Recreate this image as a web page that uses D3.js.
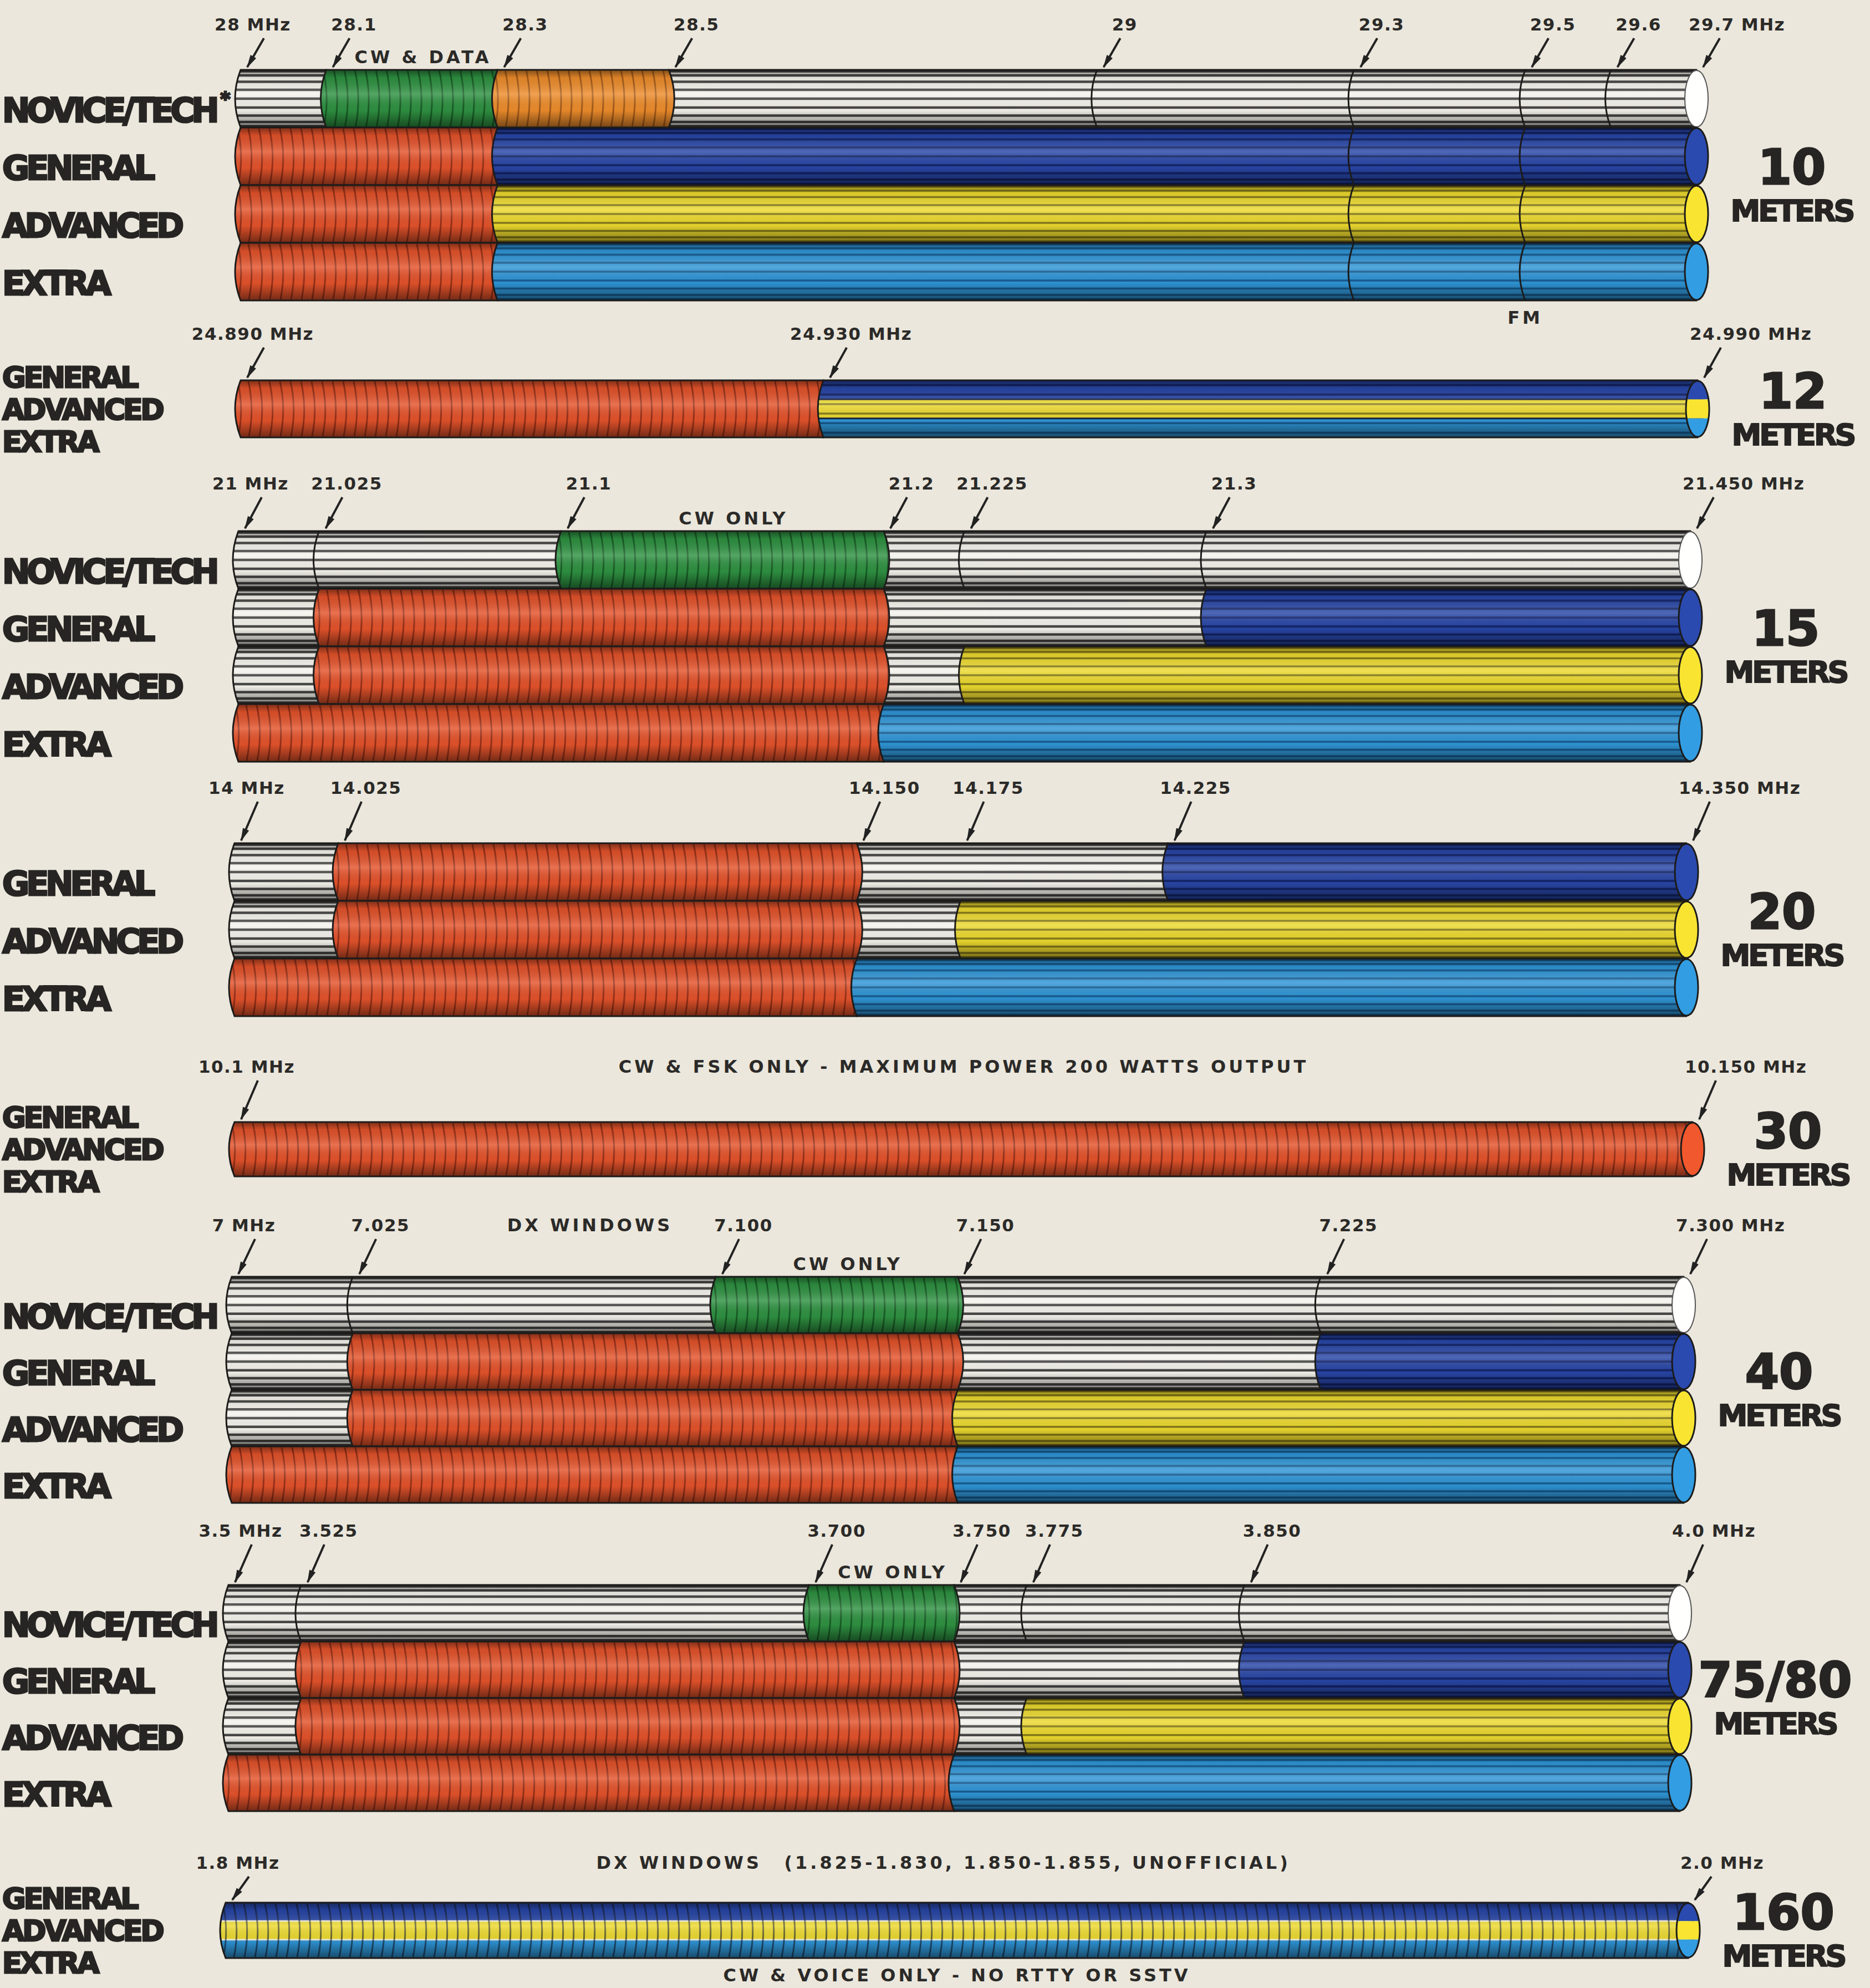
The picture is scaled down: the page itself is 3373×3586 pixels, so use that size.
<!DOCTYPE html>
<html>
<head>
<meta charset="utf-8">
<script src="https://cdn.jsdelivr.net/npm/d3@7"></script>
<style>
body{margin:0;background:#ebe7dc;}
svg{display:block;}
.freq{font-family:"DejaVu Sans",sans-serif;font-weight:bold;font-size:31px;letter-spacing:1.5px;fill:#2b2a28;}
.note{font-family:"DejaVu Sans",sans-serif;font-weight:bold;font-size:32px;letter-spacing:5px;fill:#2b2a28;}
.cls{font-family:"DejaVu Sans",sans-serif;font-weight:bold;font-size:60px;letter-spacing:-6px;fill:#262523;stroke:#262523;stroke-width:3;}
.cls.stack{font-size:52px;letter-spacing:-4px;}
.band{font-family:"DejaVu Sans",sans-serif;font-weight:bold;font-size:88px;fill:#262523;stroke:#262523;stroke-width:3;}
.meters{font-family:"DejaVu Sans",sans-serif;font-weight:bold;font-size:54px;letter-spacing:-4px;fill:#262523;stroke:#262523;stroke-width:2;}
</style>
</head>
<body>
<svg id="chart"></svg>
<script>
// band names (right hand side)
var bandNames = ["10","12","15","20","30","40","75/80","160"];
// band edges in MHz
var bandRanges = [[28,29.7],[24.89,24.99],[21,21.45],[14,14.35],[10.1,10.15],[7,7.3],[3.5,4.0],[1.8,2.0]];
// frequencies marked with an arrow
var bandMarkers = [
    [28,28.1,28.3,28.5,29,29.3,29.5,29.6,29.7],
    [24.89,24.93,24.99],
    [21,21.025,21.1,21.2,21.225,21.3,21.45],
    [14,14.025,14.15,14.175,14.225,14.35],
    [10.1,10.15],
    [7,7.025,7.1,7.15,7.225,7.3],
    [3.5,3.525,3.7,3.75,3.775,3.85,4.0],
    [1.8,2.0]
];
var markerLabels = [
    ["28 MHz","28.1","28.3","28.5","29","29.3","29.5","29.6","29.7 MHz"],
    ["24.890 MHz","24.930 MHz","24.990 MHz"],
    ["21 MHz","21.025","21.1","21.2","21.225","21.3","21.450 MHz"],
    ["14 MHz","14.025","14.150","14.175","14.225","14.350 MHz"],
    ["10.1 MHz","10.150 MHz"],
    ["7 MHz","7.025","7.100","7.150","7.225","7.300 MHz"],
    ["3.5 MHz","3.525","3.700","3.750","3.775","3.850","4.0 MHz"],
    ["1.8 MHz","2.0 MHz"]
];
// licence classes listed at the left
var rowLabels = [
    ["NOVICE/TECH*","GENERAL","ADVANCED","EXTRA"],
    ["GENERAL","ADVANCED","EXTRA"],
    ["NOVICE/TECH","GENERAL","ADVANCED","EXTRA"],
    ["GENERAL","ADVANCED","EXTRA"],
    ["GENERAL","ADVANCED","EXTRA"],
    ["NOVICE/TECH","GENERAL","ADVANCED","EXTRA"],
    ["NOVICE/TECH","GENERAL","ADVANCED","EXTRA"],
    ["GENERAL","ADVANCED","EXTRA"]
];
// segments of each cylinder: [from MHz, to MHz, privilege]
var bandSegments = [
    [
        [[28,28.1,"none"],[28.1,28.3,"ncw"],[28.3,28.5,"ndata"],[28.5,29.7,"none"]],
        [[28,28.3,"cw"],[28.3,29.7,"gen"]],
        [[28,28.3,"cw"],[28.3,29.7,"adv"]],
        [[28,28.3,"cw"],[28.3,29.7,"ext"]]
    ],
    [
        [[24.89,24.93,"cw"],[24.93,24.99,"gae"]]
    ],
    [
        [[21,21.1,"none"],[21.1,21.2,"ncw"],[21.2,21.45,"none"]],
        [[21,21.025,"none"],[21.025,21.2,"cw"],[21.2,21.3,"none"],[21.3,21.45,"gen"]],
        [[21,21.025,"none"],[21.025,21.2,"cw"],[21.2,21.225,"none"],[21.225,21.45,"adv"]],
        [[21,21.2,"cw"],[21.2,21.45,"ext"]]
    ],
    [
        [[14,14.025,"none"],[14.025,14.15,"cw"],[14.15,14.225,"none"],[14.225,14.35,"gen"]],
        [[14,14.025,"none"],[14.025,14.15,"cw"],[14.15,14.175,"none"],[14.175,14.35,"adv"]],
        [[14,14.15,"cw"],[14.15,14.35,"ext"]]
    ],
    [
        [[10.1,10.15,"cw"]]
    ],
    [
        [[7,7.1,"none"],[7.1,7.15,"ncw"],[7.15,7.3,"none"]],
        [[7,7.025,"none"],[7.025,7.15,"cw"],[7.15,7.225,"none"],[7.225,7.3,"gen"]],
        [[7,7.025,"none"],[7.025,7.15,"cw"],[7.15,7.3,"adv"]],
        [[7,7.15,"cw"],[7.15,7.3,"ext"]]
    ],
    [
        [[3.5,3.7,"none"],[3.7,3.75,"ncw"],[3.75,4.0,"none"]],
        [[3.5,3.525,"none"],[3.525,3.75,"cw"],[3.75,3.85,"none"],[3.85,4.0,"gen"]],
        [[3.5,3.525,"none"],[3.525,3.75,"cw"],[3.75,3.775,"none"],[3.775,4.0,"adv"]],
        [[3.5,3.75,"cw"],[3.75,4.0,"ext"]]
    ],
    [
        [[1.8,2.0,"gaecw"]]
    ]
];
// sub band borders drawn across rows: [MHz, first row, last row]
var bandDividers = [
    [[29,0,0],[29.3,0,3],[29.5,0,3],[29.6,0,0]],
    [],
    [[21.025,0,0],[21.225,0,0],[21.3,0,0]],
    [],
    [],
    [[7.025,0,0],[7.225,0,0]],
    [[3.525,0,0],[3.775,0,0],[3.85,0,0]],
    []
];
// notes: [MHz, text, where]
var bandNotes = [
    [[28.2,"CW & DATA","inline"],[29.5,"FM","below"]],
    [],
    [[21.15,"CW ONLY","inline"]],
    [],
    [[10.125,"CW & FSK ONLY - MAXIMUM POWER 200 WATTS OUTPUT","top"]],
    [[7.074,"DX WINDOWS","top"],[7.125,"CW ONLY","inline"]],
    [[3.725,"CW ONLY","inline"]],
    [[1.862,"DX WINDOWS","top"],[1.911,"(1.825-1.830, 1.850-1.855, UNOFFICIAL)","top"],[1.9,"CW & VOICE ONLY - NO RTTY OR SSTV","below"]]
];

//where each band sits on the page
var layout = [
    {x0:434,x1:3060,top:126,rowH:104,labelY:55},
    {x0:434,x1:3062,top:686,rowH:103,labelY:613},
    {x0:430,x1:3049,top:958,rowH:104,labelY:883},
    {x0:423,x1:3042,top:1521,rowH:104,labelY:1432},
    {x0:423,x1:3053,top:2024,rowH:98,labelY:1935},
    {x0:418,x1:3037,top:2303,rowH:102,labelY:2221},
    {x0:412,x1:3030,top:2859,rowH:102,labelY:2772},
    {x0:407,x1:3045,top:3432,rowH:100,labelY:3371}
];

var looks = {
    none:{fill:"#f5f3ec",line:"#2a2a2a",tex:"h",w:4.5,op:0.85},
    cw:{fill:"#e4532b",line:"#7c2412",tex:"v",w:3,op:0.7},
    ncw:{fill:"#2f9242",line:"#0f4a1c",tex:"v",w:3,op:0.7},
    ndata:{fill:"#ee8d2c",line:"#8c4a12",tex:"v",w:3,op:0.7},
    gen:{fill:"#2846a6",line:"#101f5e",tex:"h",w:4,op:0.8},
    adv:{fill:"#ecd92e",line:"#5e5410",tex:"h",w:3.5,op:0.7},
    ext:{fill:"#2f95d6",line:"#0e4676",tex:"h",w:3.5,op:0.7}
}
var stack3 = ["gen","adv","ext"];

var screen = {width:3373,height:3586};
var bulge = 10;
var clipCount = 0;

var svg = d3.select("#chart")
    .attr("width",screen.width)
    .attr("height",screen.height);

svg.append("rect")
    .attr("width",screen.width)
    .attr("height",screen.height)
    .attr("fill","#ebe7dc");

var defs = svg.append("defs");

var shade = defs.append("linearGradient")
    .attr("id","shade")
    .attr("x1",0).attr("y1",0).attr("x2",0).attr("y2",1);
[[0,"#000",0.45],[0.14,"#000",0.08],[0.42,"#fff",0.18],[0.7,"#000",0.04],[1,"#000",0.5]]
    .forEach(function(s){
        shade.append("stop").attr("offset",s[0]).attr("stop-color",s[1]).attr("stop-opacity",s[2]);
    });

defs.append("marker")
    .attr("id","head")
    .attr("viewBox","0 0 12 6")
    .attr("refX",11).attr("refY",3)
    .attr("markerWidth",28).attr("markerHeight",12)
    .attr("markerUnits","userSpaceOnUse")
    .attr("orient","auto")
    .append("path")
    .attr("d","M0,0 L12,3 L0,6 Z")
    .attr("fill","#222");

var segPath = function(xa,xb,y,h)
{
    return "M"+xa+","+y+" Q"+(xa-2*bulge)+","+(y+h/2)+" "+xa+","+(y+h)+
        " L"+xb+","+(y+h)+" Q"+(xb+2*bulge)+","+(y+h/2)+" "+xb+","+y+" Z";
}

var drawTexture = function(g,look,xa,xb,y,h)
{
    if(look.tex=="h")
    {
        var n = Math.max(3,Math.round(h/10));
        var ys = d3.range(1,n).map(function(i){ return y+h/2*(1-Math.cos(Math.PI*i/n)); });
        g.selectAll(null)
            .data(ys)
            .enter()
            .append("line")
            .attr("x1",xa-30).attr("x2",xb+30)
            .attr("y1",function(d){return d;})
            .attr("y2",function(d){return d;})
            .attr("stroke",look.line)
            .attr("stroke-width",look.w)
            .attr("opacity",look.op);
    }
    else
    {
        var xs = d3.range(xa-24,xb+24,19);
        g.selectAll(null)
            .data(xs)
            .enter()
            .append("path")
            .attr("d",function(x){
                return "M"+x+","+(y+2)+" Q"+(x+11)+","+(y+h/2)+" "+(x+1)+","+(y+h-2);
            })
            .attr("fill","none")
            .attr("stroke",look.line)
            .attr("stroke-width",look.w)
            .attr("opacity",look.op);
    }
}

var drawSegment = function(target,seg,xScale,y,h)
{
    var xa = xScale(seg[0]), xb = xScale(seg[1]);
    var d = segPath(xa,xb,y,h);
    var id = "clip"+(clipCount++);
    defs.append("clipPath").attr("id",id).append("path").attr("d",d);
    var g = target.append("g").attr("clip-path","url(#"+id+")");
    if(seg[2]=="gae" || seg[2]=="gaecw")
    {
        stack3.forEach(function(k,i){
            var look = looks[k];
            var sy = y+i*h/3;
            g.append("rect")
                .attr("x",xa-30).attr("y",sy)
                .attr("width",xb-xa+60).attr("height",h/3)
                .attr("fill",look.fill);
            if(seg[2]=="gae") drawTexture(g,look,xa,xb,sy,h/3);
            if(i>0)
            {
                g.append("line")
                    .attr("x1",xa-30).attr("x2",xb+30)
                    .attr("y1",sy).attr("y2",sy)
                    .attr("stroke",seg[2]=="gaecw" ? "#f1ecd2" : "#1a2240")
                    .attr("stroke-width",3);
            }
        });
        if(seg[2]=="gaecw") drawTexture(g,{line:"#141a2c",tex:"v",w:3,op:0.6},xa,xb,y,h);
    }
    else
    {
        var look = looks[seg[2]];
        g.append("rect")
            .attr("x",xa-30).attr("y",y)
            .attr("width",xb-xa+60).attr("height",h)
            .attr("fill",look.fill);
        drawTexture(g,look,xa,xb,y,h);
    }
    target.append("path")
        .attr("d",d)
        .attr("fill","url(#shade)");
    target.append("path")
        .attr("d",d)
        .attr("fill","none")
        .attr("stroke","#1c1b1a")
        .attr("stroke-width",3);
}

var drawCap = function(target,priv,cx,y,h)
{
    var id = "clip"+(clipCount++);
    var rx = 21, ry = h/2-1;
    defs.append("clipPath").attr("id",id)
        .append("ellipse").attr("cx",cx).attr("cy",y+h/2).attr("rx",rx).attr("ry",ry);
    var g = target.append("g").attr("clip-path","url(#"+id+")");
    var parts = (priv=="gae"||priv=="gaecw") ? stack3 : [priv];
    parts.forEach(function(k,i){
        var c = d3.color(looks[k].fill).brighter(k=="none"?0.2:0.15);
        g.append("rect")
            .attr("x",cx-rx).attr("y",y+i*h/parts.length)
            .attr("width",2*rx).attr("height",h/parts.length)
            .attr("fill",c.formatHex());
    });
    target.append("ellipse")
        .attr("cx",cx).attr("cy",y+h/2).attr("rx",rx).attr("ry",ry)
        .attr("fill","none")
        .attr("stroke",priv=="none" ? "#555" : "#1c1b1a")
        .attr("stroke-width",priv=="none" ? 2 : 3);
}

var drawBand = function(b)
{
    var lay = layout[b];
    var xScale = d3.scaleLinear()
        .domain(bandRanges[b])
        .range([lay.x0,lay.x1]);
    var rows = bandSegments[b];
    var h = lay.rowH;
    var band = svg.append("g").attr("class","band-"+b);

    //cylinders, white parts first so coloured parts sit on top
    rows.forEach(function(row,r){
        var y = lay.top+r*h;
        var rg = band.append("g");
        row.filter(function(s){return s[2]=="none";})
            .forEach(function(s){ drawSegment(rg,s,xScale,y,h); });
        row.filter(function(s){return s[2]!="none";})
            .forEach(function(s){ drawSegment(rg,s,xScale,y,h); });
        drawCap(rg,row[row.length-1][2],lay.x1,y,h);
    });

    //dividers inside a segment
    band.selectAll(null)
        .data(bandDividers[b])
        .enter()
        .append("path")
        .attr("d",function(dv){
            var x = xScale(dv[0]);
            var p = "";
            for(var r=dv[1]; r<=dv[2]; r++)
            {
                var yy = lay.top+r*h;
                p += "M"+x+","+yy+" Q"+(x-2*bulge)+","+(yy+h/2)+" "+x+","+(yy+h)+" ";
            }
            return p;
        })
        .attr("fill","none")
        .attr("stroke","#1c1b1a")
        .attr("stroke-width",3);

    //frequency labels and arrows
    var last = bandMarkers[b].length-1;
    var marks = bandMarkers[b].map(function(f,i){ return {f:f,i:i,label:markerLabels[b][i]}; });
    band.selectAll(null)
        .data(marks)
        .enter()
        .append("text")
        .classed("freq",true)
        .attr("text-anchor",function(m){ return m.i==last ? "start" : "middle"; })
        .attr("x",function(m){
            if(m.i==0) return xScale(m.f)+22;
            if(m.i==last) return xScale(m.f)-14;
            return xScale(m.f)+50;
        })
        .attr("y",lay.labelY)
        .text(function(m){ return m.label; });

    band.selectAll(null)
        .data(marks)
        .enter()
        .append("line")
        .attr("x1",function(m){ return xScale(m.f)+42; })
        .attr("y1",lay.labelY+14)
        .attr("x2",function(m){ return xScale(m.f)+12; })
        .attr("y2",lay.top-5)
        .attr("stroke","#222")
        .attr("stroke-width",4)
        .attr("marker-end","url(#head)");

    //notes
    var bottom = lay.top+rows.length*h;
    band.selectAll(null)
        .data(bandNotes[b])
        .enter()
        .append("text")
        .classed("note",true)
        .attr("text-anchor","middle")
        .attr("x",function(n){ return xScale(n[0])+(n[2]=="inline"?20:0); })
        .attr("y",function(n){
            if(n[2]=="inline") return lay.top-12;
            if(n[2]=="below") return bottom+42;
            return lay.labelY;
        })
        .text(function(n){ return n[1]; });

    //licence class labels
    var labels = rowLabels[b];
    var mid = lay.top+rows.length*h/2;
    var lab = band.selectAll(null)
        .data(labels)
        .enter()
        .append("text")
        .classed("cls",true)
        .classed("stack",rows.length==1)
        .attr("x",4)
        .attr("y",function(t,i){
            if(rows.length==1) return mid+(i-1)*58+19;
            return lay.top+i*h+h/2+42;
        });
    lab.append("tspan").text(function(t){ return t.replace("*",""); });
    lab.filter(function(t){ return t.indexOf("*")>=0; })
        .append("tspan")
        .attr("dy",-30)
        .attr("dx",8)
        .style("font-size","34px")
        .text("*");

    //band name
    band.append("text")
        .classed("band",true)
        .attr("text-anchor","middle")
        .attr("x",lay.x1+172)
        .attr("y",mid-2)
        .text(bandNames[b]);
    band.append("text")
        .classed("meters",true)
        .attr("text-anchor","middle")
        .attr("x",lay.x1+172)
        .attr("y",mid+65)
        .text("METERS");
}

bandNames.forEach(function(n,b){ drawBand(b); });
</script>
</body>
</html>
